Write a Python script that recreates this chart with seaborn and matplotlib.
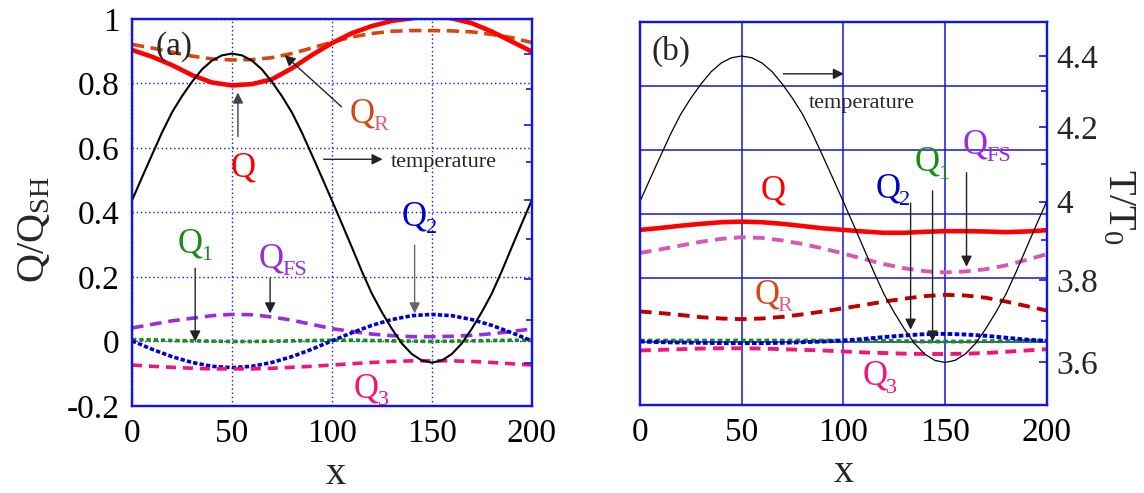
import seaborn as sns
import matplotlib.pyplot as plt
from matplotlib.ticker import FixedLocator, NullFormatter

sns.set_theme(style="white")
plt.rcParams['font.family'] = ['Liberation Serif', 'DejaVu Serif']
plt.rcParams['mathtext.fontset'] = 'custom'
plt.rcParams['mathtext.rm'] = 'Liberation Serif'
plt.rcParams['mathtext.it'] = 'Liberation Serif:italic'

# x positions
x10 = list(range(0, 201, 10))
x5 = list(range(0, 201, 5))

# temperature T/T0 (same in both panels, right log axis)
temp = [4.00, 4.06, 4.12, 4.18, 4.235, 4.28, 4.32, 4.355, 4.38, 4.395, 4.40,
        4.395, 4.38, 4.355, 4.32, 4.28, 4.235, 4.18, 4.12, 4.06, 4.00,
        3.94, 3.88, 3.82, 3.765, 3.72, 3.68, 3.645, 3.62, 3.605, 3.60,
        3.605, 3.62, 3.645, 3.68, 3.72, 3.765, 3.82, 3.88, 3.94, 4.00]

# panel (a), Q/Q_SH
q_a = [0.904, 0.883, 0.857, 0.826, 0.803, 0.794, 0.798, 0.813, 0.847, 0.888, 0.925,
       0.956, 0.978, 0.994, 1.002, 1.012, 1.002, 0.987, 0.961, 0.930, 0.899]
qr_a = [0.921, 0.910, 0.897, 0.885, 0.876, 0.873, 0.874, 0.880, 0.893, 0.910, 0.928,
        0.944, 0.955, 0.962, 0.964, 0.964, 0.963, 0.960, 0.952, 0.942, 0.927]
qfs_a = [0.042, 0.053, 0.064, 0.072, 0.080, 0.084, 0.083, 0.076, 0.066, 0.053, 0.040,
         0.031, 0.023, 0.018, 0.015, 0.015, 0.016, 0.019, 0.024, 0.031, 0.039]
q1_a = [0.006, 0.005, 0.003, 0.002, 0.001, 0.0, 0.0, 0.001, 0.002, 0.003, 0.004,
        0.004, 0.003, 0.002, 0.001, 0.0, 0.001, 0.002, 0.003, 0.004, 0.004]
q2_a = [0.002, -0.024, -0.047, -0.065, -0.077, -0.081, -0.077, -0.065, -0.047, -0.024, 0.002,
        0.027, 0.050, 0.068, 0.080, 0.084, 0.080, 0.068, 0.050, 0.027, 0.002]
q3_a = [-0.073, -0.077, -0.080, -0.083, -0.085, -0.085, -0.085, -0.083, -0.080, -0.077, -0.073,
        -0.069, -0.065, -0.062, -0.060, -0.060, -0.060, -0.062, -0.065, -0.069, -0.073]

# panel (b), same left scale (unlabelled)
q_b = [0.349, 0.355, 0.362, 0.368, 0.373, 0.375, 0.373, 0.368, 0.361, 0.354, 0.349,
       0.344, 0.340, 0.340, 0.343, 0.345, 0.345, 0.344, 0.342, 0.344, 0.348]
qfs_b = [0.277, 0.288, 0.300, 0.312, 0.321, 0.326, 0.324, 0.316, 0.305, 0.291, 0.275,
         0.258, 0.242, 0.229, 0.220, 0.216, 0.219, 0.226, 0.238, 0.255, 0.273]
qr_b = [0.094, 0.089, 0.083, 0.076, 0.072, 0.070, 0.072, 0.077, 0.085, 0.094, 0.104,
        0.114, 0.125, 0.134, 0.142, 0.146, 0.144, 0.137, 0.125, 0.111, 0.097]
q1_b = [0.003, 0.003, 0.003, 0.003, 0.003, 0.003, 0.003, 0.003, 0.003, 0.003, 0.003,
        0.002, 0.002, 0.001, 0.0, 0.0, 0.0, 0.001, 0.001, 0.002, 0.002]
q2_b = [0.0, -0.002, -0.003, -0.004, -0.005, -0.005, -0.005, -0.004, -0.002, 0.0, 0.003,
        0.008, 0.014, 0.019, 0.023, 0.024, 0.022, 0.018, 0.012, 0.006, 0.002]
q3_b = [-0.028, -0.026, -0.024, -0.022, -0.021, -0.021, -0.022, -0.024, -0.026, -0.028, -0.031,
        -0.034, -0.036, -0.038, -0.039, -0.039, -0.038, -0.036, -0.032, -0.028, -0.024]

xticks = [0, 50, 100, 150, 200]
yticks = [-0.2, 0, 0.2, 0.4, 0.6, 0.8, 1]
ylabels = ['-0.2', '0', '0.2', '0.4', '0.6', '0.8', '1']
tticks = [3.6, 3.8, 4.0, 4.2, 4.4]
tlabels = ['3.6', '3.8', '4', '4.2', '4.4']
tminor = [3.5, 3.7, 3.9, 4.1, 4.3, 4.5]

BLUE = '#1414e6'
RED = '#ff0000'
ORANGE = '#d8460f'
PINKSUB = '#e0607e'
PURPLE = '#9a2be0'
GREEN = '#1a8c1a'
DBLUE = '#0000cc'
PINK = '#f2147c'


def curve(ax, x, y, color, lw, dash=None):
    kw = {} if dash is None else {'linestyle': (0, dash)}
    sns.lineplot(x=x, y=y, ax=ax, color=color, lw=lw, legend=False, **kw)


def qlabel(ax, x, y, sub, color, subcolor=None, size=25):
    ax.text(x, y, 'Q', color=color, fontsize=size, ha='center', va='center')
    if sub:
        ax.annotate(sub, xy=(x, y), xytext=(8, -8.5), textcoords='offset points',
                    color=subcolor or color, fontsize=16, ha='left', va='center')


def arrow(ax, tail, head, color='#222222'):
    ax.annotate('', xy=head, xytext=tail,
                arrowprops=dict(arrowstyle='-|>', color=color, lw=1.0,
                                mutation_scale=16, shrinkA=0, shrinkB=0))


def style(ax, tw, grid_ls, grid_lw):
    ax.set_xlim(0, 200)
    ax.set_ylim(-0.2, 1)
    ax.set_xticks(xticks)
    ax.set_xticklabels([str(v) for v in xticks])
    ax.set_yticks(yticks)
    ax.grid(True, color=BLUE, ls=grid_ls, lw=grid_lw)
    ax.set_axisbelow(True)
    ax.tick_params(axis='both', direction='in', length=0, labelsize=24,
                   labelcolor='black', pad=9)
    tw.set_yscale('log')
    tw.set_ylim(3.5, 4.5)
    tw.set_xlim(0, 200)
    tw.yaxis.set_major_locator(FixedLocator(tticks))
    tw.yaxis.set_minor_locator(FixedLocator(tminor))
    tw.yaxis.set_minor_formatter(NullFormatter())
    tw.set_yticklabels(tlabels)
    tw.tick_params(axis='y', which='major', direction='in', length=6, width=1.2,
                   color=BLUE, labelsize=24, pad=7)
    tw.tick_params(axis='y', which='minor', direction='in', length=4, width=1.2,
                   color=BLUE)
    for a in (ax, tw):
        for s in a.spines.values():
            s.set_color(BLUE)
            s.set_linewidth(1.6)


fig = plt.figure(figsize=(11.44, 4.93), dpi=100)
ax_a = fig.add_axes([0.1154, 0.1765, 0.3494, 0.785])
ax_b = fig.add_axes([0.5594, 0.1775, 0.3555, 0.7785])
tw_a = ax_a.twinx()
tw_b = ax_b.twinx()

# ---- panel (a)
curve(ax_a, x10, qr_a, ORANGE, 2.6, (3.4, 1.8))
curve(ax_a, x10, q_a, RED, 3.3)
curve(ax_a, x10, qfs_a, PURPLE, 2.6, (3.2, 1.9))
curve(ax_a, x10, q1_a, GREEN, 2.6, (1.2, 0.8))
curve(ax_a, x10, q2_a, DBLUE, 2.6, (1.2, 0.6))
curve(tw_a, x5, temp, 'black', 1.5)
curve(ax_a, x10, q3_a, PINK, 2.6, (2.8, 1.9))
style(ax_a, tw_a, (0, (1, 2)), 1.0)
ax_a.set_yticklabels(ylabels)
tw_a.tick_params(axis='y', labelright=False)

ax_a.text(20.9, 0.914, '(a)', fontsize=24, ha='center', va='center')
qlabel(ax_a, 55.7, 0.537, '', RED)
arrow(ax_a, (53, 0.635), (53, 0.772), '#444444')
qlabel(ax_a, 115, 0.705, 'R', ORANGE, PINKSUB)
arrow(ax_a, (104.8, 0.728), (76.3, 0.888))
arrow(ax_a, (95.9, 0.565), (125.4, 0.565))
ax_a.text(156, 0.556, 'temperature', fontsize=16, ha='center', va='center')
qlabel(ax_a, 141.4, 0.387, '2', DBLUE)
arrow(ax_a, (141.4, 0.299), (141.4, 0.087), '#666666')
qlabel(ax_a, 28.9, 0.302, '1', GREEN)
arrow(ax_a, (31.6, 0.227), (31.6, 0.0))
qlabel(ax_a, 69.5, 0.256, 'FS', PURPLE)
arrow(ax_a, (69.1, 0.196), (69.1, 0.087))
qlabel(ax_a, 117.3, -0.147, '3', PINK)

# ---- panel (b)
curve(ax_b, x10, q_b, RED, 3.3)
curve(ax_b, x10, qfs_b, '#d955b8', 2.8, (3.0, 1.9))
curve(ax_b, x10, qr_b, '#c00000', 2.8, (3.0, 1.9))
curve(ax_b, x10, q1_b, GREEN, 2.8, (1.2, 0.8))
curve(ax_b, x10, q2_b, DBLUE, 2.8, (1.2, 0.6))
curve(ax_b, x10, q3_b, PINK, 2.8, (2.8, 1.9))
curve(tw_b, x5, temp, 'black', 0.9)
style(ax_b, tw_b, '-', 1.1)
ax_b.tick_params(axis='y', labelleft=False)

ax_b.text(15.1, 0.906, '(b)', fontsize=24, ha='center', va='center')
arrow(ax_b, (70.5, 0.837), (100.3, 0.837))
ax_b.text(109, 0.745, 'temperature', fontsize=16, ha='center', va='center')
qlabel(ax_b, 65.6, 0.472, '', RED)
qlabel(ax_b, 122.1, 0.477, '2', DBLUE)
arrow(ax_b, (133.1, 0.433), (133.1, 0.037))
qlabel(ax_b, 141, 0.56, '1', GREEN)
arrow(ax_b, (143.9, 0.471), (143.9, 0.0))
qlabel(ax_b, 164.7, 0.615, 'FS', PURPLE)
arrow(ax_b, (160.6, 0.528), (160.6, 0.234))
qlabel(ax_b, 62.3, 0.146, 'R', ORANGE, PINKSUB)
qlabel(ax_b, 115.6, -0.109, '3', PINK)

# axis titles
fig.text(34 / 1144, 1 - 230 / 493, r'Q/Q$_{\mathrm{SH}}$', fontsize=29,
         rotation=90, ha='center', va='center')
fig.text(335.6 / 1144, 1 - 474 / 493, 'x', fontsize=29, ha='center', va='center')
fig.text(844 / 1144, 1 - 473 / 493, 'x', fontsize=29, ha='center', va='center')
fig.text(1118 / 1144, 1 - 207 / 493, r'T/T$_0$', fontsize=29,
         rotation=270, ha='center', va='center')

fig.savefig('out.png', dpi=100)
